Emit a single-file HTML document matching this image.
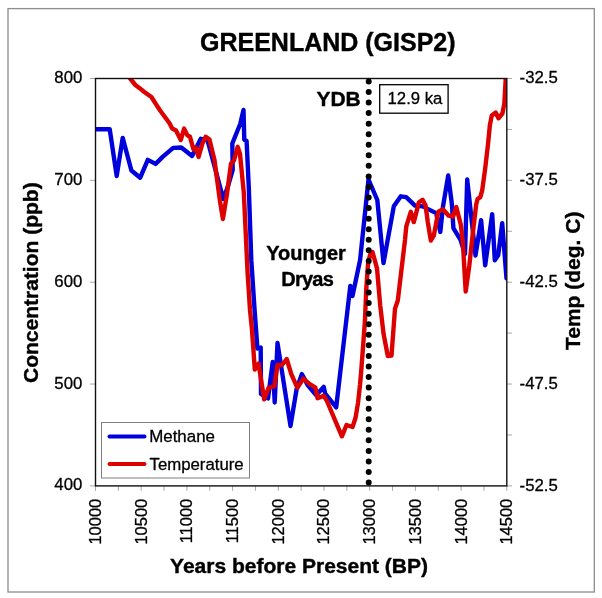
<!DOCTYPE html>
<html><head><meta charset="utf-8"><title>Greenland GISP2</title>
<style>
html,body{margin:0;padding:0;background:#fff;}
svg{display:block;}
text{font-family:'Liberation Sans', Arial, sans-serif;fill:#000;stroke:#000;stroke-width:0.3px;stroke-linejoin:round;}
text[font-weight=bold]{stroke-width:0.4px;}
</style></head><body>
<svg width="602" height="598" viewBox="0 0 602 598">
<rect x="0" y="0" width="602" height="598" fill="#fff"/>
<rect x="8" y="8.6" width="586.3" height="583.4" fill="none" stroke="#8c8c8c" stroke-width="1.3"/>
<defs><clipPath id="pc"><rect x="95.5" y="78.5" width="411.3" height="407.4"/></clipPath></defs>

<text x="200" y="50.6" font-size="25" font-weight="bold">GREENLAND (GISP2)</text>
<text x="82.3" y="83.0" font-size="16.8" text-anchor="end">800</text>
<text x="82.3" y="184.8" font-size="16.8" text-anchor="end">700</text>
<text x="82.3" y="286.7" font-size="16.8" text-anchor="end">600</text>
<text x="82.3" y="388.5" font-size="16.8" text-anchor="end">500</text>
<text x="82.3" y="490.4" font-size="16.8" text-anchor="end">400</text>
<text x="519.6" y="83.1" font-size="16.8">-32.5</text>
<text x="519.6" y="184.9" font-size="16.8">-37.5</text>
<text x="519.6" y="286.8" font-size="16.8">-42.5</text>
<text x="519.6" y="388.6" font-size="16.8">-47.5</text>
<text x="519.6" y="490.5" font-size="16.8">-52.5</text>
<text transform="translate(100.9,498.7) rotate(-90)" font-size="16.5" text-anchor="end">10000</text>
<text transform="translate(146.6,498.7) rotate(-90)" font-size="16.5" text-anchor="end">10500</text>
<text transform="translate(192.3,498.7) rotate(-90)" font-size="16.5" text-anchor="end">11000</text>
<text transform="translate(238.0,498.7) rotate(-90)" font-size="16.5" text-anchor="end">11500</text>
<text transform="translate(283.7,498.7) rotate(-90)" font-size="16.5" text-anchor="end">12000</text>
<text transform="translate(329.4,498.7) rotate(-90)" font-size="16.5" text-anchor="end">12500</text>
<text transform="translate(375.1,498.7) rotate(-90)" font-size="16.5" text-anchor="end">13000</text>
<text transform="translate(420.8,498.7) rotate(-90)" font-size="16.5" text-anchor="end">13500</text>
<text transform="translate(466.5,498.7) rotate(-90)" font-size="16.5" text-anchor="end">14000</text>
<text transform="translate(512.2,498.7) rotate(-90)" font-size="16.5" text-anchor="end">14500</text>
<path d="M90,78.50H95.5 M90,180.35H95.5 M90,282.20H95.5 M90,384.05H95.5 M90,485.90H95.5 M506.8,78.50H512 M506.8,129.43H512 M506.8,180.35H512 M506.8,231.27H512 M506.8,282.20H512 M506.8,333.12H512 M506.8,384.05H512 M506.8,434.97H512 M506.8,485.90H512 M95.50,485.9V490.8 M118.35,485.9V490.8 M141.20,485.9V490.8 M164.05,485.9V490.8 M186.90,485.9V490.8 M209.75,485.9V490.8 M232.60,485.9V490.8 M255.45,485.9V490.8 M278.30,485.9V490.8 M301.15,485.9V490.8 M324.00,485.9V490.8 M346.85,485.9V490.8 M369.70,485.9V490.8 M392.55,485.9V490.8 M415.40,485.9V490.8 M438.25,485.9V490.8 M461.10,485.9V490.8 M483.95,485.9V490.8 M506.80,485.9V490.8" stroke="#a8a8a8" stroke-width="1" fill="none"/>
<text x="170.1" y="572.9" font-size="21" font-weight="bold">Years before Present (BP)</text>
<text transform="translate(37.6,383) rotate(-90)" font-size="21" font-weight="bold">Concentration (ppb)</text>
<text transform="translate(580,350) rotate(-90)" font-size="21" font-weight="bold">Temp (deg. C)</text>
<g clip-path="url(#pc)" fill="none" stroke-width="4.4" stroke-linejoin="round" stroke-linecap="round">
<polyline points="95.5,129.2 109.7,129.2 116.7,176.0 122.7,137.9 131.4,170.5 140.2,177.7 147.8,159.9 155.6,163.9 162.9,156.6 173.2,147.9 181.3,147.5 192.1,155.9 200.8,138.8 207.5,140.1 223.3,199.0 228.3,185.2 232.7,170.0 232.3,143.5 240.2,124.0 243.5,110.0 244.3,139.8 246.6,141.0 248.8,187.6 251.3,260.2 254.6,310.0 257.4,348.5 260.7,347.5 261.0,394.0 268.0,398.5 272.7,362.0 274.7,402.5 277.5,343.0 290.5,426.0 296.6,389.2 301.8,374.1 307.9,385.4 316.1,395.2 323.7,386.9 325.2,393.7 336.2,407.3 350.3,286.0 352.5,296.0 360.1,260.0 368.5,179.5 377.3,200.0 383.5,263.0 393.8,206.3 400.8,196.3 406.2,197.2 415.0,205.6 422.6,206.4 436.1,213.1 440.3,231.9 442.9,207.1 448.2,175.5 451.9,204.1 453.4,228.2 460.5,239.8 465.0,254.0 467.2,179.5 475.5,255.5 481.1,220.2 485.2,265.3 492.2,214.1 494.8,260.3 498.2,255.3 502.2,223.2 506.5,278.4" stroke="#0000dd"/>
<polyline points="120.0,66.0 130.0,78.3 135.4,85.0 140.0,88.4 144.0,91.7 151.4,97.0 156.1,104.4 160.1,110.5 165.5,117.8 169.5,123.2 172.2,128.5 176.0,130.5 180.8,140.0 184.1,128.6 187.4,135.4 190.0,136.8 193.5,149.5 195.8,147.5 198.6,157.0 202.1,144.3 205.7,136.7 209.5,139.5 212.5,152.0 214.5,160.0 216.7,176.8 220.1,201.9 222.9,219.0 226.8,195.2 231.0,163.5 234.0,160.5 237.7,146.8 240.0,154.0 243.8,192.6 247.6,272.8 250.0,310.0 252.0,330.0 254.8,369.5 258.6,363.6 261.4,381.8 264.2,399.3 268.6,387.8 274.4,386.2 277.4,365.0 282.0,365.0 286.7,359.0 291.3,374.1 297.3,387.7 303.3,378.6 309.4,383.9 315.4,387.7 317.6,398.2 323.7,395.9 326.7,400.5 341.9,436.3 346.5,425.0 352.5,427.0 355.5,418.0 358.0,403.0 360.0,385.0 361.3,370.0 363.1,346.0 365.0,320.0 366.2,290.0 368.0,264.0 370.0,255.0 372.5,252.0 377.0,268.3 380.2,305.2 383.5,333.5 387.8,356.0 391.5,355.5 395.0,308.6 397.8,300.5 405.0,240.0 406.3,226.3 410.8,211.8 413.8,222.1 418.8,202.6 422.6,199.8 425.6,205.6 427.8,222.1 430.8,240.5 433.8,235.7 438.3,211.6 442.9,209.3 448.7,215.7 453.0,216.7 456.3,207.0 460.7,224.3 462.8,241.7 465.7,291.5 469.3,265.7 472.6,235.2 476.2,204.5 477.6,199.0 480.3,197.1 482.2,190.4 485.1,169.2 488.0,144.2 489.9,125.0 491.8,115.4 495.7,112.5 498.5,118.3 502.4,113.5 504.3,103.8 505.7,79.3 506.5,70.0" stroke="#dd0000"/>
</g>
<rect x="95.5" y="78.5" width="411.3" height="407.4" fill="none" stroke="#111" stroke-width="1.4"/>
<text x="266.2" y="260.2" font-size="20" font-weight="bold">Younger</text>
<text x="281.2" y="286" font-size="20" font-weight="bold" letter-spacing="-0.75">Dryas</text>
<line x1="368.7" y1="81.4" x2="368.7" y2="483" stroke="#000" stroke-width="6" stroke-linecap="round" stroke-dasharray="0 10.558"/>
<text x="316.4" y="106.4" font-size="21" font-weight="bold">YDB</text>
<rect x="379.7" y="84.7" width="68.4" height="28.5" fill="#fff" stroke="#000" stroke-width="1.3"/>
<text x="387.6" y="104.4" font-size="16.7">12.9 ka</text>
<rect x="101.5" y="422.5" width="148" height="55.5" fill="#fff" stroke="#7f7f7f" stroke-width="1"/>
<line x1="109.5" y1="436.6" x2="144.5" y2="436.6" stroke="#0000dd" stroke-width="4" stroke-linecap="round"/>
<line x1="109.5" y1="463.9" x2="144.5" y2="463.9" stroke="#dd0000" stroke-width="4" stroke-linecap="round"/>
<text x="149.2" y="442" font-size="16.9">Methane</text>
<text x="149.5" y="469.7" font-size="16.8">Temperature</text>
</svg>
</body></html>
